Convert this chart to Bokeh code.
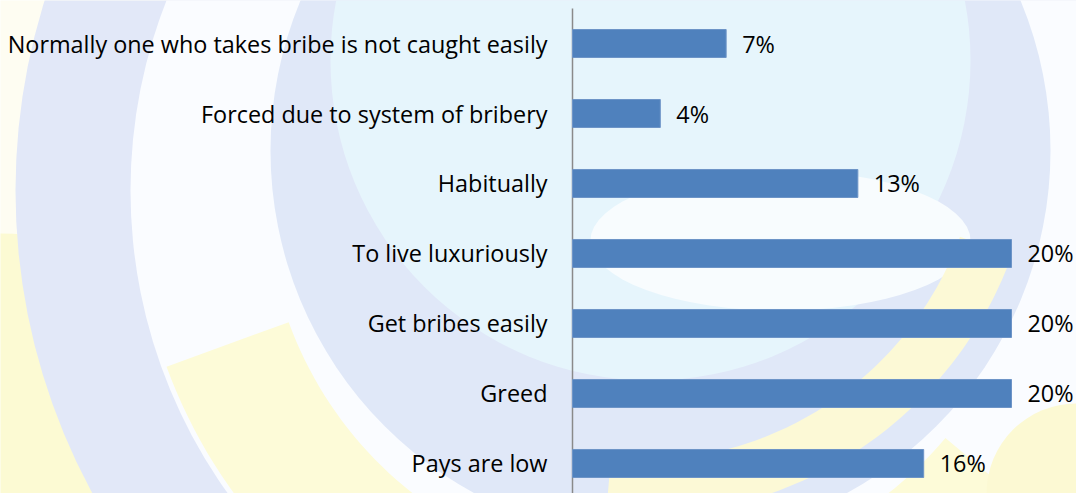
import numpy as np
from bokeh.plotting import figure
from bokeh.models import Range1d, ColumnDataSource
from bokeh.core.properties import value
from bokeh.embed import file_html
from bokeh.resources import INLINE

# ---- data ----
categories = [
    "Normally one who takes bribe is not caught easily",
    "Forced due to system of bribery",
    "Habitually",
    "To live luxuriously",
    "Get bribes easily",
    "Greed",
    "Pays are low",
]
values = [7, 4, 13, 20, 20, 20, 16]
value_labels = ["7%", "4%", "13%", "20%", "20%", "20%", "16%"]
positions = list(range(len(categories)))

W, H = 1076, 493
PX_PER_UNIT = 21.95
AXIS_PX = 572
x_start = -AXIS_PX / PX_PER_UNIT
x_end = (W - AXIS_PX) / PX_PER_UNIT

p = figure(width=W, height=H, output_backend="svg", toolbar_location=None,
           x_range=Range1d(x_start, x_end), y_range=Range1d(6.4286, -0.6143),
           x_axis_location=None, y_axis_location=None, min_border=0)
p.grid.visible = False
p.outline_line_color = None
p.background_fill_color = "#fefdf2"
p.border_fill_color = "#fefdf2"

# ---- decorative watermark background (pixel space) ----
p.extra_x_ranges = {"bx": Range1d(0, W)}
p.extra_y_ranges = {"by": Range1d(H, 0)}
bg = dict(x_range_name="bx", y_range_name="by", line_color=None)

def sector(cx, cy, r_in, r_out, a0, a1, n=80):
    t = np.radians(np.linspace(a0, a1, n))
    xo = cx + r_out * np.cos(t)
    yo = cy + r_out * np.sin(t)
    xi = cx + r_in * np.cos(t[::-1])
    yi = cy + r_in * np.sin(t[::-1])
    return list(np.concatenate([xo, xi])), list(np.concatenate([yo, yi]))

p.circle(x=[0], y=[493], radius=260, fill_color="#fcfad3", **bg)
p.circle(x=[650], y=[190], radius=635, fill_color="#e2e8f8", **bg)
p.circle(x=[650], y=[190], radius=520, fill_color="#fafcff", **bg)
sx, sy = sector(650, 190, 385, 515, 40, 160)
p.patch(x=sx, y=sy, fill_color="#fdfbd8", **bg)
p.circle(x=[660], y=[150], radius=390, fill_color="#e0e8f8", **bg)
p.circle(x=[650], y=[60], radius=320, fill_color="#e6f5fc", **bg)
p.ellipse(x=[780], y=[240], width=380, height=140, fill_color="#f8fcfe", **bg)
gx, gy = sector(640, 120, 340, 395, 20, 95)
p.patch(x=gx, y=gy, fill_color="#fcf9d6", **bg)
p.circle(x=[1076], y=[493], radius=90, fill_color="#fcf9d3", **bg)

# ---- chart ----
src = ColumnDataSource(dict(y=positions, v=values, cat=categories, lab=value_labels))

p.segment(x0=[0], y0=[-0.5], x1=[0], y1=[7], line_color="#8a8a8a", line_width=1.5)
p.hbar(y="y", left=0, right="v", height=0.4, source=src,
       fill_color="#4f81bd", line_color="#6d94c7", line_width=1)

p.text(x=0, y="y", text="cat", source=src, x_offset=-25,
       text_align="right", text_baseline="middle",
       text_font=value("Open Sans"), text_font_size="23.4px", text_color="#000000")
p.text(x="v", y="y", text="lab", source=src, x_offset=16,
       text_align="left", text_baseline="middle",
       text_font=value("Open Sans"), text_font_size="23.4px", text_color="#000000")

open("out.html", "w").write(file_html(p, INLINE))
